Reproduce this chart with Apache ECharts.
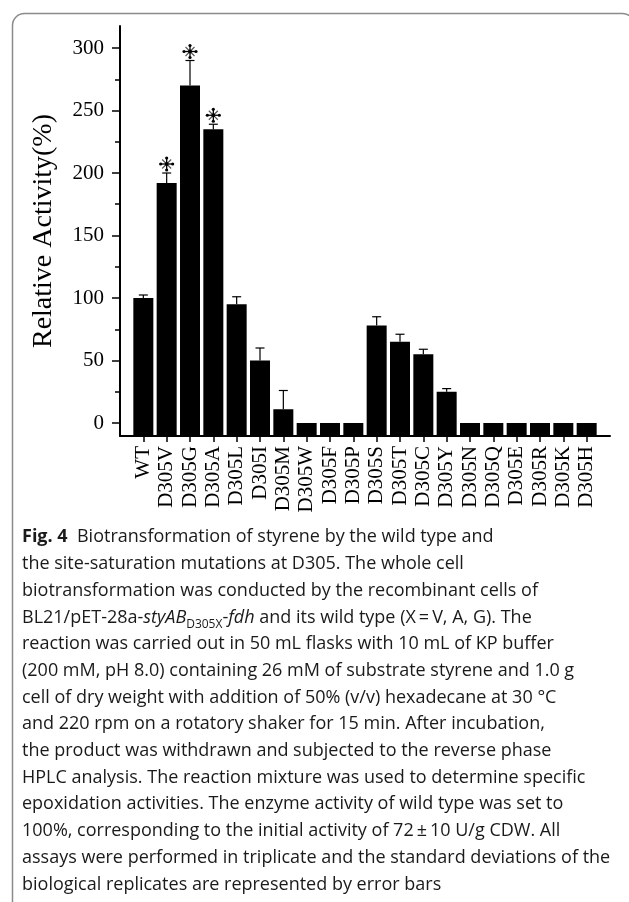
<!DOCTYPE html>
<html>
<head>
<meta charset="utf-8">
<script src="https://cdn.jsdelivr.net/npm/echarts@6/dist/echarts.min.js"></script>
<style>
  html, body { margin: 0; padding: 0; background: #fff; }
  #chart { width: 629px; height: 902px; }
</style>
</head>
<body>
<div id="chart"></div>
<script>
// values
const categories = ['WT', 'D305V', 'D305G', 'D305A', 'D305L', 'D305I', 'D305M', 'D305W', 'D305F', 'D305P',
  'D305S', 'D305T', 'D305C', 'D305Y', 'D305N', 'D305Q', 'D305E', 'D305R', 'D305K', 'D305H'];
const activity = [100, 192, 270, 235, 95, 50, 11, 0, 0, 0, 78, 65, 55, 25, 0, 0, 0, 0, 0, 0];
const errorUp = [2.4, 8, 20, 4, 6, 10, 15, 0, 0, 0, 7, 6, 4, 2.5, 0, 0, 0, 0, 0, 0];
const starred = ['D305V', 'D305G', 'D305A'];
const yMajorTicks = [0, 50, 100, 150, 200, 250, 300];
const yMinorTicks = [25, 75, 125, 175, 225, 275];
const Y_MIN = -10.4;
const Y_MAX = 317.6;

const captionLines = [
  '{b|Fig. 4}  Biotransformation of styrene by the wild type and',
  'the site-saturation mutations at D305. The whole cell',
  'biotransformation was conducted by the recombinant cells of',
  'BL21/pET-28a-{i|styAB}{sub|D305X}-{i|fdh} and its wild type (X\u2009=\u2009V, A, G). The',
  'reaction was carried out in 50 mL flasks with 10 mL of KP buffer',
  '(200 mM, pH 8.0) containing 26 mM of substrate styrene and 1.0 g',
  'cell of dry weight with addition of 50% (v/v) hexadecane at 30 °C',
  'and 220 rpm on a rotatory shaker for 15 min. After incubation,',
  'the product was withdrawn and subjected to the reverse phase',
  'HPLC analysis. The reaction mixture was used to determine specific',
  'epoxidation activities. The enzyme activity of wild type was set to',
  '100%, corresponding to the initial activity of 72\u2009±\u200910 U/g CDW. All',
  'assays were performed in triplicate and the standard deviations of the',
  'biological replicates are represented by error bars'
];

// padded category axis so the bars sit away from both axis ends
const axisCats = [''].concat(categories, ['']);
const barData = categories.map((c, i) => [i + 1, activity[i], errorUp[i]]);
const errData = barData.filter(d => d[2] > 0);
const starData = barData.filter(d => starred.includes(categories[d[0] - 1]));

const serif = 'Liberation Serif';
const sans = 'Open Sans';
const capSize = 18;
const capColor = '#1a1a1a';

function renderBar(params, api) {
  const top = api.coord([api.value(0), api.value(1)]);
  const base = api.coord([api.value(0), Y_MIN]);
  return {
    type: 'rect',
    shape: { x: top[0] - 10, y: top[1], width: 20, height: base[1] - top[1] },
    style: { fill: '#000' }
  };
}

function renderErr(params, api) {
  const x = api.value(0), v = api.value(1), e = api.value(2);
  const p0 = api.coord([x, v]);
  const p1 = api.coord([x, v + e]);
  const st = { stroke: '#000', lineWidth: 1.2 };
  return {
    type: 'group',
    children: [
      { type: 'line', shape: { x1: p0[0], y1: p0[1], x2: p1[0], y2: p1[1] }, style: st },
      { type: 'line', shape: { x1: p1[0] - 4.5, y1: p1[1], x2: p1[0] + 4.5, y2: p1[1] }, style: st }
    ]
  };
}

function renderStar(params, api) {
  const p = api.coord([api.value(0), api.value(1) + api.value(2)]);
  const cx = p[0], cy = p[1] - 9, r = 6, d = 4.5;
  const dark = { stroke: '#000', lineWidth: 1.3 };
  const light = { stroke: '#555', lineWidth: 1.1 };
  const dot = (x, y, rr) => ({ type: 'circle', shape: { cx: x, cy: y, r: rr }, style: { fill: '#000' } });
  return {
    type: 'group',
    children: [
      { type: 'line', shape: { x1: cx - d, y1: cy - d, x2: cx + d, y2: cy + d }, style: light },
      { type: 'line', shape: { x1: cx - d, y1: cy + d, x2: cx + d, y2: cy - d }, style: light },
      { type: 'line', shape: { x1: cx, y1: cy - r, x2: cx, y2: cy + r }, style: dark },
      { type: 'line', shape: { x1: cx - r, y1: cy, x2: cx + r, y2: cy }, style: dark },
      dot(cx, cy - r, 1.6), dot(cx, cy + r, 1.6), dot(cx - r, cy, 1.6), dot(cx + r, cy, 1.6),
      dot(cx, cy, 1.9)
    ]
  };
}

const myChart = echarts.init(document.getElementById('chart'), null, { renderer: 'canvas' });

const option = {
  backgroundColor: '#fff',
  animation: false,
  grid: { left: 120, top: 26, width: 490, height: 410, containLabel: false, outerBoundsMode: 'none' },
  xAxis: {
    type: 'category',
    data: axisCats,
    boundaryGap: false,
    axisLine: { onZero: false, lineStyle: { color: '#000', width: 2 } },
    axisTick: {
      interval: (i, v) => v !== '',
      length: 6,
      lineStyle: { color: '#000', width: 1.5 }
    },
    axisLabel: { interval: 0, rotate: 90, margin: 10, fontFamily: serif, fontSize: 21, color: '#000' },
    splitLine: { show: false }
  },
  yAxis: [
    {
      type: 'value',
      min: Y_MIN,
      max: Y_MAX,
      splitLine: { show: false },
      axisLine: { show: true, lineStyle: { color: '#000', width: 2 } },
      axisTick: { show: true, length: 8, customValues: yMajorTicks, lineStyle: { color: '#000', width: 1.5 } },
      axisLabel: { customValues: yMajorTicks, margin: 16, fontFamily: serif, fontSize: 21, color: '#000' },
      name: 'Relative Activity(%)',
      nameLocation: 'middle',
      nameRotate: 90,
      nameGap: 62,
      nameTextStyle: { fontFamily: serif, fontSize: 28, color: '#000' }
    },
    {
      type: 'value',
      min: Y_MIN,
      max: Y_MAX,
      position: 'left',
      splitLine: { show: false },
      axisLine: { show: false },
      axisTick: { show: true, length: 5, customValues: yMinorTicks, lineStyle: { color: '#000', width: 1.5 } },
      axisLabel: { show: false }
    }
  ],
  series: [
    { name: 'bars', type: 'custom', renderItem: renderBar, data: barData, encode: { x: 0, y: 1 }, z: 2 },
    { name: 'errors', type: 'custom', renderItem: renderErr, data: errData, encode: { x: 0, y: 1 }, z: 3 },
    { name: 'stars', type: 'custom', renderItem: renderStar, data: starData, encode: { x: 0, y: 1 }, clip: false, z: 4 }
  ],
  graphic: [
    {
      type: 'rect',
      left: 10, top: 11,
      shape: { x: 0, y: 0, width: 622, height: 900, r: 12 },
      style: { fill: 'none', stroke: '#8a8a8a', lineWidth: 1.5 },
      silent: true
    },
    {
      type: 'text',
      left: 22, top: 524,
      style: {
        text: captionLines.join('\n'),
        fontFamily: sans, fontSize: capSize, lineHeight: 26.7, fill: capColor,
        rich: {
          b: { fontFamily: sans, fontSize: capSize, fontWeight: 'bold', lineHeight: 26.7, fill: capColor },
          i: { fontFamily: sans, fontSize: capSize, fontStyle: 'italic', lineHeight: 26.7, fill: capColor },
          sub: { fontFamily: sans, fontSize: 12, verticalAlign: 'bottom', lineHeight: 16, fill: capColor }
        }
      }
    }
  ]
};

myChart.setOption(option);
</script>
</body>
</html>
